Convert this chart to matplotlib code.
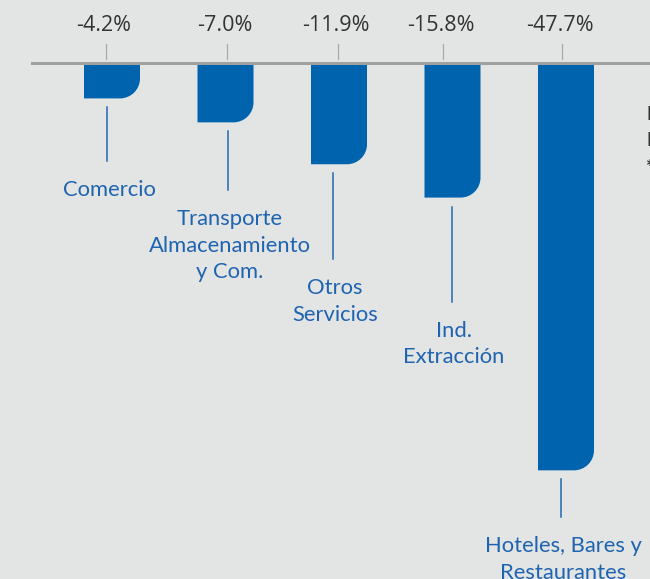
import matplotlib.pyplot as plt
from matplotlib.path import Path
from matplotlib.patches import PathPatch

# data
sectors = ['Comercio', 'Transporte\nAlmacenamiento\ny Com.', 'Otros\nServicios',
           'Ind.\nExtracción', 'Hoteles, Bares y\nRestaurantes']
values = [-4.2, -7.0, -11.9, -15.8, -47.7]
value_labels = ['-4.2%', '-7.0%', '-11.9%', '-15.8%', '-47.7%']

# layout (pixels, figure drawn at 72 dpi so 1 pt = 1 px)
PX_X = 113.5   # px per bar slot
PX_Y = 8.55    # px per percent
tick_dx = [-6, 1, -1, -10, -4]        # value label / tick offset from bar centre
line_dx = [-5, 2, -6, -1, -5]         # connector offset from bar centre
line_len = [54, 59, 86, 95, 38]
bar_w = 56 / PX_X
rad_x, rad_y = 20 / PX_X, 20 / PX_Y

bg = '#e3e5e5'
blue = '#0063ae'
txt_blue = '#1f64b0'

plt.rcParams['font.family'] = ['Lato', 'DejaVu Sans']
fig = plt.figure(figsize=(650 / 72, 579 / 72), dpi=72, facecolor=bg)
ax = fig.add_axes([0, 0, 1, 1])
ax.set_facecolor(bg)
ax.set_xlim(-112 / PX_X, (650 - 112) / PX_X)
ax.set_ylim(-(579 - 62.5) / PX_Y, 62.5 / PX_Y)
ax.axis('off')

k = 0.5523
for i, v in enumerate(values):
    x0, x1 = i - bar_w / 2, i + bar_w / 2
    verts = [(x0, 0), (x1, 0), (x1, v + rad_y),
             (x1, v + rad_y * (1 - k)), (x1 - rad_x * (1 - k), v), (x1 - rad_x, v),
             (x0, v), (x0, 0)]
    codes = [Path.MOVETO, Path.LINETO, Path.LINETO,
             Path.CURVE4, Path.CURVE4, Path.CURVE4,
             Path.LINETO, Path.CLOSEPOLY]
    ax.add_patch(PathPatch(Path(verts, codes), facecolor=blue, edgecolor='none', zorder=2))

    # value label + tick above the axis
    tx = i + tick_dx[i] / PX_X
    ax.plot([tx, tx], [3.5 / PX_Y, 19 / PX_Y], color='#a8a8a8', lw=1.2, zorder=1)
    ax.text(tx - 2 / PX_X, 37 / PX_Y, value_labels[i], ha='center', va='center',
            fontsize=21.5, color='#333333', family=['Open Sans', 'DejaVu Sans'])

    # connector and sector name
    lx = i + line_dx[i] / PX_X
    y_start = v - 9 / PX_Y
    y_end = y_start - line_len[i] / PX_Y
    ax.plot([lx, lx], [y_start, y_end], color=txt_blue, lw=1.5, zorder=1)
    ax.text(lx + 2 / PX_X, y_end - 19 / PX_Y, sectors[i], ha='center', va='top',
            fontsize=22, color=txt_blue, linespacing=1.4)

# zero axis line
ax.axhline(0, xmin=32 / 650, xmax=1, color='#a0a0a0', lw=3, zorder=3)

# clipped side notes on the right edge
for yy, s in zip([114, 141, 168], ['P', 'I', '*']):
    ax.text((646 - 112) / PX_X, (62.5 - yy) / PX_Y, s, ha='left', va='center',
            fontsize=19, color='#333333', fontweight='bold')

fig.savefig('out.png', dpi=72, facecolor=bg)
